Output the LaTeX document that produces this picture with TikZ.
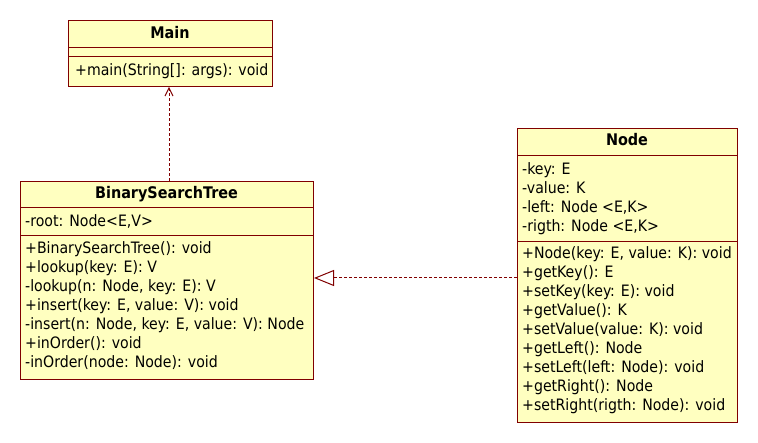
\documentclass[tikz,border=0pt]{standalone}
\usepackage{fontspec}
\setmainfont{DejaVu Sans Condensed}
\usetikzlibrary{arrows.meta}
\definecolor{umlfill}{RGB}{255,255,192}
\definecolor{umlline}{RGB}{128,0,0}
\tikzset{
  box/.style={draw=umlline, fill=umlfill, line width=1pt, rectangle, anchor=north west, inner sep=0pt},
  txt/.style={anchor=west, inner sep=0pt, text height=11.5pt, text depth=3.5pt, font=\fontsize{15.7}{18}\selectfont},
  ttl/.style={anchor=center, inner sep=0pt, text height=11.5pt, text depth=3.5pt, font=\fontsize{16}{18}\selectfont\bfseries},
  sep/.style={draw=umlline, line width=1pt},
  conn/.style={draw=umlline, line width=1pt, dash pattern=on 3pt off 2pt},
}
\begin{document}
\begin{tikzpicture}[x=1pt,y=-1pt]
\useasboundingbox (0,0) rectangle (758,443);
% Main
\node[box, minimum width=204pt, minimum height=66pt] (main) at (68,20) {};
\draw[sep] (68,48) -- (272,48);
\draw[sep] (68,57) -- (272,57);
\node[ttl] (mainT) at (170,35) {Main};
\node[txt] (mainM) at (75,72) {+main(String[]: args): void};
% BST
\node[box, minimum width=293pt, minimum height=198pt] (bst) at (20,181) {};
\draw[sep] (20,208) -- (313,208);
\draw[sep] (20,236) -- (313,236);
\node[ttl] (bstT) at (166.5,195) {BinarySearchTree};
\node[txt] (bstA) at (25,223) {-root: Node<E,V>};
\node[txt] (bst1) at (25,250) {+BinarySearchTree(): void};
\node[txt] (bst2) at (25,269) {+lookup(key: E): V};
\node[txt] (bst3) at (25,288) {-lookup(n: Node, key: E): V};
\node[txt] (bst4) at (25,307) {+insert(key: E, value: V): void};
\node[txt] (bst5) at (25,326) {-insert(n: Node, key: E, value: V): Node};
\node[txt] (bst6) at (25,345) {+inOrder(): void};
\node[txt] (bst7) at (25,364) {-inOrder(node: Node): void};
% Node
\node[box, minimum width=220pt, minimum height=294pt] (nd) at (517,128) {};
\draw[sep] (517,156) -- (737,156);
\draw[sep] (517,242) -- (737,242);
\node[ttl] (ndT) at (627,142) {Node};
\node[txt] (ndA1) at (522,171) {-key: E};
\node[txt] (ndA2) at (522,190) {-value: K};
\node[txt] (ndA3) at (522,209) {-left: Node <E,K>};
\node[txt] (ndA4) at (522,228) {-rigth: Node <E,K>};
\node[txt] (nd1) at (522,255) {+Node(key: E, value: K): void};
\node[txt] (nd2) at (522,274) {+getKey(): E};
\node[txt] (nd3) at (522,293) {+setKey(key: E): void};
\node[txt] (nd4) at (522,312) {+getValue(): K};
\node[txt] (nd5) at (522,331) {+setValue(value: K): void};
\node[txt] (nd6) at (522,350) {+getLeft(): Node};
\node[txt] (nd7) at (522,369) {+setLeft(left: Node): void};
\node[txt] (nd8) at (522,388) {+getRight(): Node};
\node[txt] (nd9) at (522,407) {+setRight(rigth: Node): void};
% connectors
\coordinate (depS) at (bst.north -| 169,0);
\coordinate (depE) at (main.south -| 169,0);
\draw[conn, -{Straight Barb[length=8pt,width=8pt,line width=1pt]}] (depS) -- (depE);
\coordinate (realS) at (nd.west |- 0,278);
\coordinate (realE) at (bst.east |- 0,278);
\draw[conn, -{Triangle[open,length=20pt,width=16pt,line width=1pt,fill=white]}] (realS) -- (realE);
\end{tikzpicture}
\end{document}
